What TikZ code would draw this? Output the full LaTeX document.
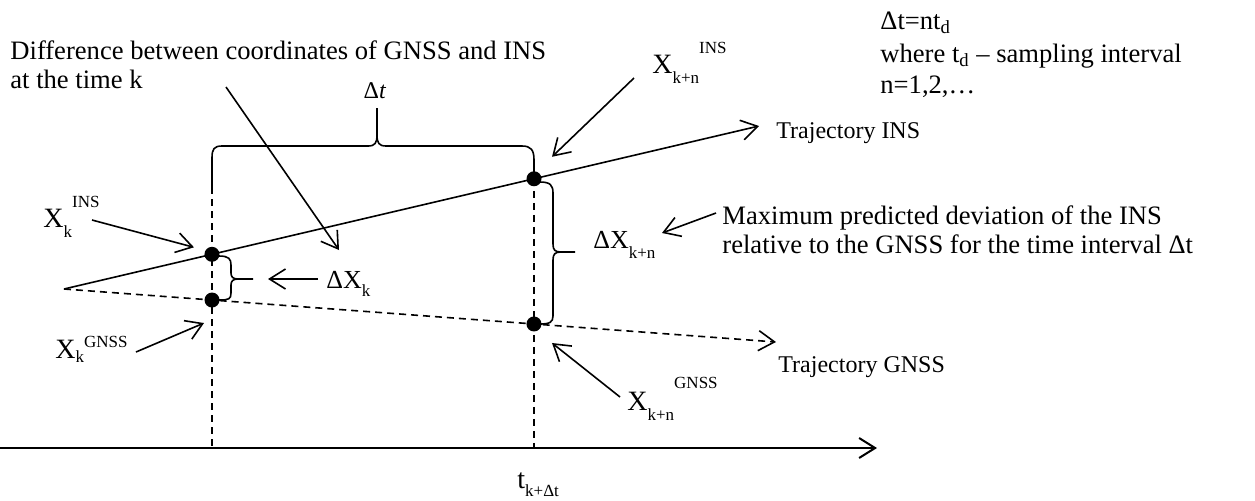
\documentclass[tikz,border=0pt]{standalone}
\usepackage{fontspec}
\setmainfont{Liberation Serif}
\usetikzlibrary{arrows.meta,calc}
\newcommand\fsz[1]{\fontsize{#1}{#1}\selectfont}
\newcommand\XLab[4]{{\fsz{14pt}X}\raisebox{-#3}{\fsz{8.5pt}#1}\raisebox{#4}{\fsz{8.5pt}#2}}
\begin{document}
\begin{tikzpicture}[x=0.5pt,y=-0.5pt,
  ln/.style={line width=0.8pt},
  dsh/.style={line width=0.8pt, dash pattern=on 3.5pt off 2.5pt},
  arr/.style={line width=0.8pt, -{Straight Barb[length=8pt,width=10pt]}},
  dotnode/.style={circle, fill=black, inner sep=0pt, minimum size=7.5pt},
  lbl/.style={inner sep=0pt, anchor=base west, font=\fsz{13.3pt}},
  lblsm/.style={inner sep=0pt, anchor=base west, font=\fsz{12pt}},
  lbldx/.style={inner sep=0pt, anchor=base west, font=\fsz{13pt}},
  xl/.style={inner sep=0pt, anchor=base west}]
\useasboundingbox (0,0) rectangle (1255,500);

% main geometry
\coordinate (S) at (64,289);
\coordinate (Iend) at (759,126);
\coordinate (Gend) at (776,342);
\coordinate (ax0) at (0,448);
\coordinate (ax1) at (877,448);

\draw[arr] (S) -- coordinate[pos=0.2129] (pA) coordinate[pos=0.6763] (pB) (Iend);
\draw[arr,dash pattern=on 3.5pt off 2.5pt] (S) -- coordinate[pos=0.2079] (pC) coordinate[pos=0.6601] (pD) (Gend);
\draw[arr,line width=1pt] (ax0) -- (ax1);

\node[dotnode] (A) at (pA) {};
\node[dotnode] (B) at (pB) {};
\node[dotnode] (C) at (pC) {};
\node[dotnode] (D) at (pD) {};

% vertical dashed lines
\coordinate (Lleg) at (212,187);
\draw[dsh] (Lleg) -- (Lleg |- ax0);
\draw[dsh] (B.center) -- (B |- ax0);

% top brace
\coordinate (Tip) at (377,108);
\draw[ln] (Lleg) -- (212,158) .. controls (212,149) and (214,146) .. (222,146) -- (368,146) .. controls (375,146) and (377,143) .. (377,135) -- (Tip);
\draw[ln] (377,135) .. controls (377,143) and (379,146) .. (386,146) -- (522,146) .. controls (531,146) and (534,150) .. (534,160) -- (B.center);
\node[inner sep=0pt, font=\fsz{12pt}] (dt) at (375,91) {Δ\textit{t}};

% small brace
\draw[ln] (219,256) .. controls (229,256) and (231,259) .. (231,265) -- (231,273) .. controls (231,277) and (233,279) .. (238,279) -- (253,279);
\draw[ln] (238,279) .. controls (233,279) and (231,281) .. (231,285) -- (231,293) .. controls (231,299) and (229,300) .. (219,300);

% big brace
\draw[ln] (540,182) .. controls (550,182) and (553,185) .. (553,193) -- (553,244) .. controls (553,250) and (555,252) .. (561,252) -- (575,252);
\draw[ln] (561,252) .. controls (555,252) and (553,254) .. (553,260) -- (553,316) .. controls (553,322) and (550,324) .. (540,324);

% texts
\node[lbl] (diff1) at (10,59) {Difference between coordinates of GNSS and INS};
\node[lbl] (diff2) at (10,88) {at the time k};
\coordinate (dfa) at (226,87);
\coordinate (dfb) at (339,250);
\draw[arr] (dfa) -- (dfb);

\node[lbl] (n1) at (880,29) {Δt=nt\textsubscript{d}};
\node[lbl] (n2) at (880,62) {where t\textsubscript{d} – sampling interval};
\node[lbl] (n3) at (880,93) {n=1,2,…};

\node[lblsm] (tins) at (776,138) {Trajectory INS};
\node[lblsm] (tgnss) at (778,372) {Trajectory GNSS};

\node[xl] (xkins) at (43,227) {\XLab{k}{INS}{5pt}{10pt}};
\node[xl] (xkgnss) at (55,358) {\XLab{k}{GNSS}{2pt}{5.5pt}};
\node[xl] (xknins) at (652,73) {\XLab{k+n}{INS}{5pt}{10pt}};
\node[xl] (xkngnss) at (627,410) {\XLab{k+n}{GNSS}{5pt}{11pt}};

\coordinate (a1) at (92,220);
\coordinate (a1t) at ($(A)+(-18,-7)$);
\draw[arr] (a1) -- (a1t);
\coordinate (a2) at (136,352);
\coordinate (a2t) at ($(C)+(-8,23)$);
\draw[arr] (a2) -- (a2t);
\coordinate (a3) at (634,78);
\coordinate (a3t) at ($(B)+(18,-22)$);
\draw[arr] (a3) -- (a3t);
\coordinate (a4) at (620,397);
\coordinate (a4t) at ($(D)+(18,19)$);
\draw[arr] (a4) -- (a4t);

\node[lbldx] (dxk) at (326,288) {ΔX\raisebox{-4pt}{\fsz{8.5pt}k}};
\coordinate (a5) at (318,279);
\coordinate (a5t) at (268,279);
\draw[arr] (a5) -- (a5t);

\node[lbldx] (dxkn) at (593,248) {ΔX\raisebox{-5pt}{\fsz{8.5pt}k+n}};
\node[lbl] (max1) at (722,224) {Maximum predicted deviation of the INS};
\node[lbl] (max2) at (722,253) {relative to the GNSS for the time interval Δt};
\coordinate (a6) at (716,213);
\coordinate (a6t) at (662,233);
\draw[arr] (a6) -- (a6t);

\node[xl] (tk) at (517,488) {{\fsz{14pt}t}\raisebox{-4pt}{\fsz{8.5pt}k+Δt}};
\end{tikzpicture}
\end{document}
